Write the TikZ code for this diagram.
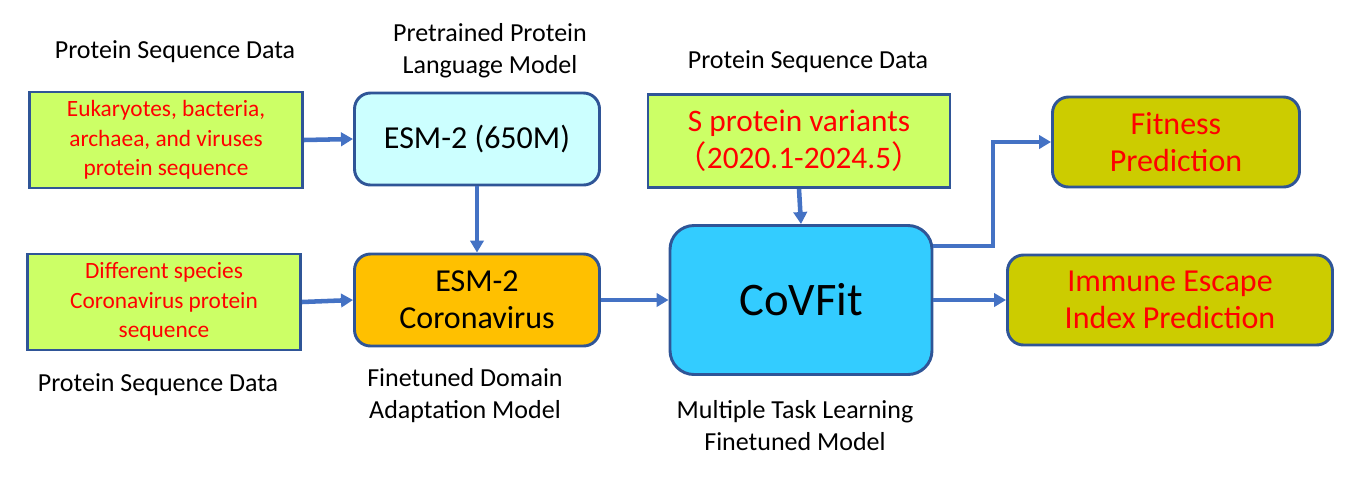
\documentclass[tikz,border=0pt]{standalone}
\usepackage{fontspec}
\setmainfont{Carlito}
\newfontfamily\cjk{Noto Sans CJK SC}
\usetikzlibrary{arrows.meta}
\definecolor{datagreen}{HTML}{CCFF66}
\definecolor{boxline}{HTML}{2F5597}
\definecolor{pretrain}{HTML}{CCFFFF}
\definecolor{finetune}{HTML}{FFC000}
\definecolor{covblue}{HTML}{33CCFF}
\definecolor{predolive}{HTML}{CCCC00}
\definecolor{flowblue}{HTML}{4472C4}
\begin{document}
\begin{tikzpicture}[x=0.75pt,y=-0.75pt,datasrc/.style={draw=boxline,fill=datagreen,line width=2.2pt,text=red,align=center,font=\fontsize{17.5}{22}\selectfont},model/.style={draw=boxline,line width=2.2pt,rounded corners=12pt,align=center,font=\fontsize{24}{28}\selectfont},predict/.style={model,fill=predolive,text=red},caption/.style={align=center,font=\fontsize{19.5}{24}\selectfont},flow/.style={flowblue,line width=3.4pt,-{Triangle[length=9pt,width=10pt]}}]
\useasboundingbox (0,0) rectangle (1360,480);
\def\srcW{273}
\def\srcH{96}
\def\esmW{245}
\def\esmH{92}

% input data
\node[datasrc,minimum width=\srcW*0.75pt,minimum height=\srcH*0.75pt] (euk) at (166,140) {Eukaryotes, bacteria,\\archaea, and viruses\\protein sequence};
\node[datasrc,minimum width=\srcW*0.75pt,minimum height=\srcH*0.75pt] (corona) at (164,302) {Different species\\Coronavirus protein\\sequence};
\node[datasrc,font=\fontsize{23.5}{28}\selectfont,minimum width=302*0.75pt,minimum height=93*0.75pt] (svar) at (799,141) {S protein variants\\{\cjk （}2020.1-2024.5{\cjk ）}};

% models
\node[model,fill=pretrain,minimum width=\esmW*0.75pt,minimum height=\esmH*0.75pt] (esm) at (477,139) {ESM-2 (650M)};
\node[model,fill=finetune,minimum width=\esmW*0.75pt,minimum height=\esmH*0.75pt] (esmcov) at (477,300) {ESM-2\\Coronavirus};
\node[model,fill=covblue,rounded corners=18pt,font=\fontsize{35}{40}\selectfont,minimum width=262*0.75pt,minimum height=149*0.75pt] (covfit) at (801,300) {CoVFit};

% outputs
\node[predict,minimum width=247*0.75pt,minimum height=90*0.75pt] (fitness) at (1176,142) {Fitness\\Prediction};
\node[predict,minimum width=325*0.75pt,minimum height=90*0.75pt] (immune) at (1170,300) {Immune Escape\\Index Prediction};

% captions
\node[caption] (capA) at (175,52) {Protein Sequence Data};
\node[caption] (capB) at (490,51) {Pretrained Protein\\Language Model};
\node[caption] (capC) at (808,62) {Protein Sequence Data};
\node[caption] (capD) at (158,385) {Protein Sequence Data};
\node[caption] (capE) at (465,396) {Finetuned Domain\\Adaptation Model};
\node[caption] (capF) at (795,426) {Multiple Task Learning\\Finetuned Model};

\coordinate (bend) at (993,246);
\draw[flow] (euk.east) -- (esm.west);
\draw[flow] (esm.south) -- (esmcov.north);
\draw[flow] (corona.east) -- (esmcov.west);
\draw[flow] (esmcov.east) -- (covfit.west);
\draw[flow] (svar.south) -- (covfit.north);
\draw[flow] (covfit.east |- bend) -- (bend) |- (fitness.west);
\draw[flow] (covfit.east) -- (immune.west);
\end{tikzpicture}
\end{document}
